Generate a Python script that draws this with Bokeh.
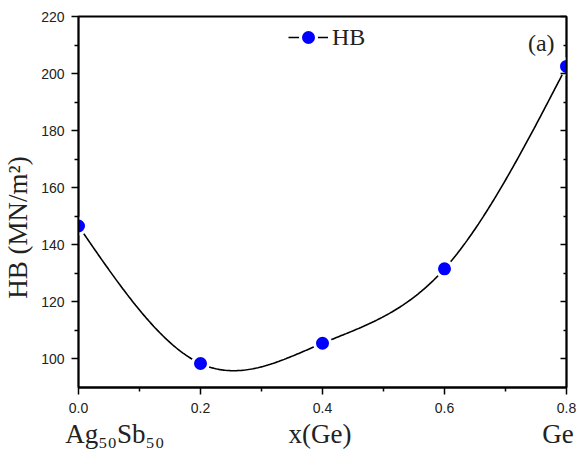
import numpy as np
from bokeh.plotting import figure
from bokeh.models import (Range1d, LinearAxis, FixedTicker, PrintfTickFormatter,
                          Label, Legend, LegendItem, ColumnDataSource)
from bokeh.embed import file_html
from bokeh.resources import INLINE

# ---- data ----
x_ge = [0.0, 0.2, 0.4, 0.6, 0.8]
hb = [146.6, 98.4, 105.5, 131.6, 202.5]
x_ticks = [0.0, 0.2, 0.4, 0.6, 0.8]
x_minor = [0.1, 0.3, 0.5, 0.7]
y_ticks = [100, 120, 140, 160, 180, 200, 220]
y_minor = [110, 130, 150, 170, 190, 210]
series_name = "HB"
y_title = "HB (MN/m\u00b2)"
x_titles = ["Ag\u2085\u2080Sb\u2085\u2080", "x(Ge)", "Ge"]

# ---- geometry (pixels on page) ----
W, H = 580, 459
FL, FR, FT, FB = 75, 566, 16, 387
X0, X1, Y0, Y1 = 0.0, 0.8, 90.0, 220.0


def xd(px):
    return round(X0 + (px - FL) / (FR - FL) * (X1 - X0), 5)


def yd(py):
    return round(Y1 - (py - FT) / (FB - FT) * (Y1 - Y0), 4)


def natural_spline(xs, ys, n=300):
    xs = np.asarray(xs, float)
    ys = np.asarray(ys, float)
    m = len(xs)
    h = np.diff(xs)
    A = np.zeros((m, m))
    r = np.zeros(m)
    A[0, 0] = A[-1, -1] = 1.0
    for i in range(1, m - 1):
        A[i, i - 1] = h[i - 1]
        A[i, i] = 2 * (h[i - 1] + h[i])
        A[i, i + 1] = h[i]
        r[i] = 6 * ((ys[i + 1] - ys[i]) / h[i] - (ys[i] - ys[i - 1]) / h[i - 1])
    M = np.linalg.solve(A, r)
    xx = np.linspace(xs[0], xs[-1], n)
    yy = np.empty_like(xx)
    for k, x in enumerate(xx):
        i = min(np.searchsorted(xs, x, side="right") - 1, m - 2)
        hi = h[i]
        a = xs[i + 1] - x
        b = x - xs[i]
        yy[k] = (M[i] * a ** 3 / (6 * hi) + M[i + 1] * b ** 3 / (6 * hi)
                 + (ys[i] / hi - M[i] * hi / 6) * a
                 + (ys[i + 1] / hi - M[i + 1] * hi / 6) * b)
    return xx, yy


sx, sy = natural_spline(x_ge, hb)

p = figure(width=W, height=H,
           x_range=Range1d(X0, X1), y_range=Range1d(Y0, Y1),
           output_backend="svg", toolbar_location=None,
           min_border_left=FL, min_border_top=FT,
           min_border_right=W - FR, min_border_bottom=H - FB,
           background_fill_color="white", border_fill_color="white")
p.xgrid.visible = False
p.ygrid.visible = False
p.outline_line_color = "black"
p.outline_line_width = 1.8
p.outline_line_alpha = 1.0

xa = p.xaxis[0]
xa.ticker = FixedTicker(ticks=x_ticks, minor_ticks=x_minor)
xa.formatter = PrintfTickFormatter(format="%.1f")
ya = p.yaxis[0]
ya.ticker = FixedTicker(ticks=y_ticks, minor_ticks=y_minor)

for ax in (xa, ya):
    ax.axis_line_width = 1.8
    ax.major_tick_line_width = 1.5
    ax.minor_tick_line_width = 1.5
    ax.major_tick_out = 7
    ax.major_tick_in = 0
    ax.minor_tick_out = 4
    ax.minor_tick_in = 0
    ax.major_label_text_font = "Liberation Sans"
    ax.major_label_text_font_size = "14px"
    ax.major_label_text_color = "#222222"
xa.major_label_standoff = 8
ya.major_label_standoff = 7

# mirrored right axis: inward ticks, no labels
ra = LinearAxis(ticker=FixedTicker(ticks=y_ticks, minor_ticks=y_minor),
                major_label_overrides={t: "" for t in y_ticks},
                major_label_standoff=0,
                axis_line_width=1.8, major_tick_line_width=1.5,
                minor_tick_line_width=1.5,
                major_tick_in=6, major_tick_out=0,
                minor_tick_in=3, minor_tick_out=0)
p.add_layout(ra, "right")

# y title as an outer left axis with one labelled tick
yt_pos = yd(227)
yt = LinearAxis(ticker=FixedTicker(ticks=[yt_pos], minor_ticks=[]),
                major_label_overrides={yt_pos: y_title},
                major_label_orientation="vertical",
                major_label_text_font="Liberation Serif",
                major_label_text_font_size="27px",
                major_label_text_color="#222222",
                major_label_standoff=5,
                axis_line_color=None, major_tick_line_color=None,
                minor_tick_line_color=None,
                major_tick_in=0, major_tick_out=0)
p.add_layout(yt, "left")

# x titles as an outer bottom axis with labelled ticks
xt_pos = [xd(111.5), xd(318), xd(557.5)]
xt = LinearAxis(ticker=FixedTicker(ticks=xt_pos, minor_ticks=[]),
                major_label_overrides=dict(zip(xt_pos, x_titles)),
                major_label_text_font="Liberation Serif",
                major_label_text_font_size="27px",
                major_label_text_color="#222222",
                major_label_standoff=3,
                axis_line_color=None, major_tick_line_color=None,
                minor_tick_line_color=None,
                major_tick_in=0, major_tick_out=0)
p.add_layout(xt, "below")

src = ColumnDataSource(dict(x=x_ge, y=hb))
curve = p.line(sx, sy, line_color="black", line_width=1.6)
dots = p.scatter("x", "y", source=src, size=16, fill_color="#0000FF",
                 line_color="white", line_width=3)

legend = Legend(items=[LegendItem(label=series_name,
                                  renderers=[curve, dots])],
                location=(210, 330), glyph_width=40, glyph_height=40,
                label_standoff=4, label_text_font="Liberation Serif",
                label_text_font_size="24px", label_text_color="#222222",
                padding=0, margin=0, spacing=0,
                border_line_color=None, background_fill_alpha=0)
p.add_layout(legend)

p.add_layout(Label(x=xd(554), y=yd(43), text="(a)",
                   text_font="Liberation Serif", text_font_size="24px",
                   text_align="right", text_baseline="middle",
                   text_color="#222222"))

open("out.html", "w").write(file_html(p, INLINE))
